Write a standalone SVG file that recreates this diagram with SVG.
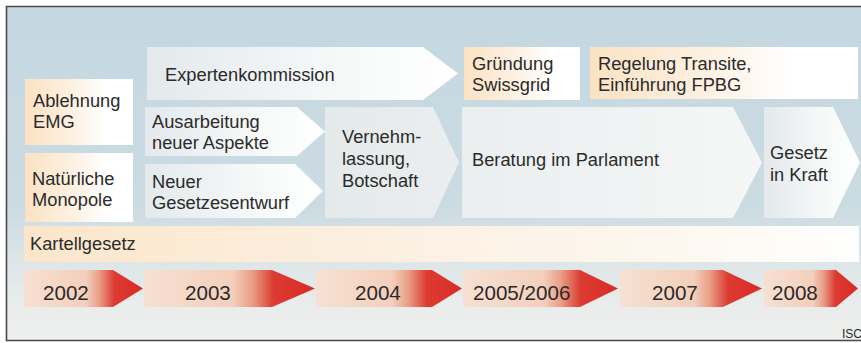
<svg xmlns="http://www.w3.org/2000/svg" width="861" height="343" viewBox="0 0 861 343">
  <defs>
    <linearGradient id="bg" x1="0" y1="0" x2="0" y2="1">
      <stop offset="0" stop-color="#c4d7e1"/>
      <stop offset="0.6" stop-color="#cbdbe2"/>
      <stop offset="0.72" stop-color="#d9e3e6"/>
      <stop offset="0.88" stop-color="#e8eceb"/>
      <stop offset="1" stop-color="#eff0ee"/>
    </linearGradient>
    <linearGradient id="peach" x1="0" y1="0" x2="1" y2="0">
      <stop offset="0" stop-color="#fbe2c3"/>
      <stop offset="0.45" stop-color="#fdf1e3"/>
      <stop offset="0.75" stop-color="#ffffff"/>
      <stop offset="1" stop-color="#ffffff"/>
    </linearGradient>
    <linearGradient id="peachLong" x1="0" y1="0" x2="1" y2="0">
      <stop offset="0" stop-color="#fbe6ca"/>
      <stop offset="0.4" stop-color="#fcefe0"/>
      <stop offset="0.8" stop-color="#fdf8f1"/>
      <stop offset="1" stop-color="#ffffff"/>
    </linearGradient>
    <linearGradient id="grey" x1="0" y1="0" x2="1" y2="0">
      <stop offset="0" stop-color="#e3e9ec"/>
      <stop offset="0.6" stop-color="#f6f8f8"/>
      <stop offset="1" stop-color="#ffffff"/>
    </linearGradient>
    <linearGradient id="greyFlat" x1="0" y1="0" x2="1" y2="0">
      <stop offset="0" stop-color="#e4e9ea"/>
      <stop offset="1" stop-color="#ebeeef"/>
    </linearGradient>
    <linearGradient id="greyLight" x1="0" y1="0" x2="1" y2="0">
      <stop offset="0" stop-color="#eaeeef"/>
      <stop offset="1" stop-color="#f5f7f6"/>
    </linearGradient>
    <linearGradient id="year" x1="0" y1="0" x2="1" y2="0">
      <stop offset="0" stop-color="#f7e0d2"/>
      <stop offset="0.52" stop-color="#f3cfbc"/>
      <stop offset="0.63" stop-color="#ea9f88"/>
      <stop offset="0.76" stop-color="#dc3b31"/>
      <stop offset="1" stop-color="#d92b26"/>
    </linearGradient>
    <style>
      .t { font-family: "Liberation Sans", Arial, Helvetica, sans-serif; font-size: 18.3px; fill: #2b2b2b; }
      .y { font-family: "Liberation Sans", Arial, Helvetica, sans-serif; font-size: 20.6px; fill: #2b2b2b; }
      .s { font-family: "Liberation Sans", Arial, Helvetica, sans-serif; font-size: 12px; fill: #2b2b2b; }
    </style>
  </defs>

  <rect x="0" y="0" width="861" height="343" fill="#ffffff"/>
  <rect x="6" y="6" width="855" height="335" fill="url(#bg)"/>
  <path d="M861,6.5 H6.5 V340.5 H861" fill="none" stroke="#4a4a4a" stroke-width="1.6"/>

  <g id="connectors"/>

  <g id="expertenkommission">
    <path d="M147,47 H423 L458,73.5 L423,100 H147 Z" fill="url(#grey)"/>
    <text class="t" x="165" y="81">Expertenkommission</text>
  </g>

  <g id="gruendung-swissgrid">
    <rect x="464" y="47" width="116" height="53" fill="url(#peach)"/>
    <text class="t" x="472" y="70">Gründung</text>
    <text class="t" x="472" y="91">Swissgrid</text>
  </g>

  <g id="regelung-transite">
    <rect x="590" y="47" width="268" height="52" fill="url(#peach)"/>
    <text class="t" x="598" y="70">Regelung Transite,</text>
    <text class="t" x="598" y="91">Einführung FPBG</text>
  </g>

  <g id="ablehnung-emg">
    <rect x="25" y="79" width="108" height="66" fill="url(#peach)"/>
    <text class="t" x="33" y="107">Ablehnung</text>
    <text class="t" x="33" y="128">EMG</text>
  </g>

  <g id="natuerliche-monopole">
    <rect x="25" y="153" width="108" height="69" fill="url(#peach)"/>
    <text class="t" x="32" y="185">Natürliche</text>
    <text class="t" x="32" y="206">Monopole</text>
  </g>

  <g id="ausarbeitung">
    <path d="M145,107 H297 L325,131.5 L297,156 H145 Z" fill="url(#grey)"/>
    <text class="t" x="152" y="128">Ausarbeitung</text>
    <text class="t" x="152" y="149">neuer Aspekte</text>
  </g>

  <g id="gesetzesentwurf">
    <path d="M145,164 H295 L323,191 L295,218 H145 Z" fill="url(#grey)"/>
    <text class="t" x="152" y="188">Neuer</text>
    <text class="t" x="152" y="209">Gesetzesentwurf</text>
  </g>

  <g id="vernehmlassung">
    <path d="M325,107 H433 L459,162.5 L433,218 H325 Z" fill="url(#greyFlat)"/>
    <text class="t" x="342" y="143">Vernehm-</text>
    <text class="t" x="342" y="165">lassung,</text>
    <text class="t" x="342" y="187">Botschaft</text>
  </g>

  <g id="beratung">
    <path d="M462,107 H733 L762,162.5 L733,218 H462 Z" fill="url(#greyLight)"/>
    <text class="t" x="472" y="166">Beratung im Parlament</text>
  </g>

  <g id="gesetz-in-kraft">
    <path d="M764,107 H833 L860,162.5 L833,218 H764 Z" fill="url(#grey)"/>
    <text class="t" x="770" y="159">Gesetz</text>
    <text class="t" x="770" y="181">in Kraft</text>
  </g>

  <g id="kartellgesetz">
    <rect x="24" y="226" width="835" height="36" fill="url(#peachLong)"/>
    <text class="t" x="30" y="250">Kartellgesetz</text>
  </g>

  <g id="year-2002">
    <path d="M24,270 H113 L143,288.5 L113,307 H24 Z" fill="url(#year)"/>
    <text class="y" x="43" y="300">2002</text>
  </g>
  <g id="year-2003">
    <path d="M144,270 H272 L315,288.5 L272,307 H144 Z" fill="url(#year)"/>
    <text class="y" x="185" y="300">2003</text>
  </g>
  <g id="year-2004">
    <path d="M316,270 H432 L462,288.5 L432,307 H316 Z" fill="url(#year)"/>
    <text class="y" x="355" y="300">2004</text>
  </g>
  <g id="year-2005-2006">
    <path d="M463,270 H580 L618,288.5 L580,307 H463 Z" fill="url(#year)"/>
    <text class="y" x="473" y="300">2005/2006</text>
  </g>
  <g id="year-2007">
    <path d="M620,270 H723 L762,288.5 L723,307 H620 Z" fill="url(#year)"/>
    <text class="y" x="652" y="300">2007</text>
  </g>
  <g id="year-2008">
    <path d="M764,270 H836 L858,288.5 L836,307 H764 Z" fill="url(#year)"/>
    <text class="y" x="772" y="300">2008</text>
  </g>

  <text class="s" x="842" y="338">ISC</text>
</svg>
